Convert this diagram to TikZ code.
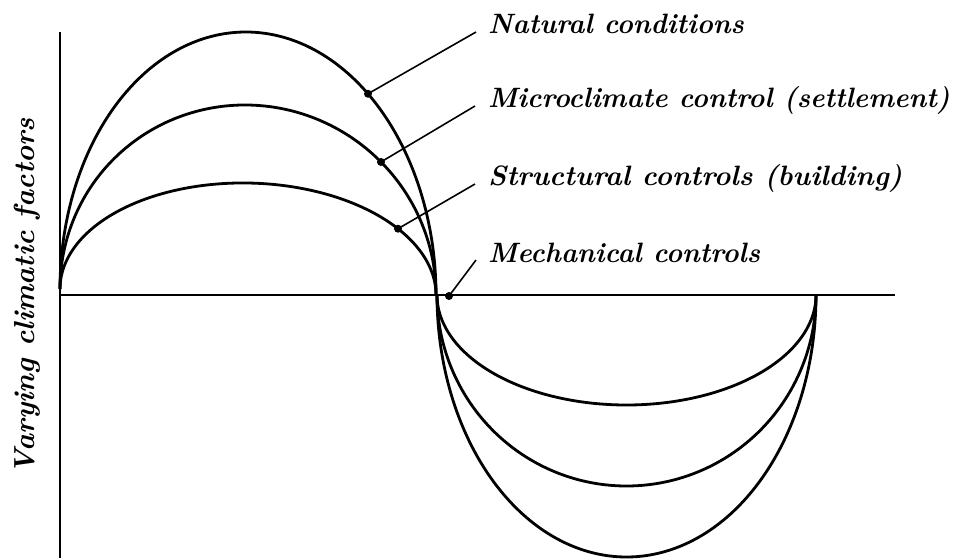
\documentclass[tikz,border=0pt]{standalone}
\begin{document}
\begin{tikzpicture}[x=1pt,y=-1pt,
  curve/.style={line width=2.8pt},
  axis/.style={line width=2.5pt},
  leader/.style={line width=1.6pt},
  dotmark/.style={circle,fill=black,inner sep=0pt,minimum size=8pt},
  lbl/.style={anchor=base west,inner sep=0pt,xscale=0.975,font=\fontsize{28}{32}\selectfont\bfseries\itshape},
  ylbl/.style={anchor=base,inner sep=0pt,rotate=90,font=\fontsize{29}{33}\selectfont\bfseries\itshape}]
\useasboundingbox (0,0) rectangle (953,558);
% axes
\coordinate (O) at (60,295);
\coordinate (ytop) at (60,32);
\coordinate (ybot) at (60,558);
\coordinate (xend) at (895,295);
\draw[axis] (ytop) -- (ybot);
\draw[axis] (O) -- (xend);
% upper curves
\draw[curve] plot[domain=0:180,samples=150,variable=\t] ({248-188*cos(\t)},{292-3*cos(\t)-260*sin(\t)});
\draw[curve] plot[domain=0:180,samples=150,variable=\t] ({248-188*cos(\t)},{292-3*cos(\t)-187*sin(\t)});
\draw[curve] plot[domain=0:180,samples=150,variable=\t] ({248-188*cos(\t)},{292-3*cos(\t)-109*sin(\t)});
% lower curves
\draw[curve] plot[domain=0:180,samples=150,variable=\t] ({626.5-189.5*cos(\t)},{295+262*sin(\t)});
\draw[curve] plot[domain=0:180,samples=150,variable=\t] ({626.5-189.5*cos(\t)},{295+191*sin(\t)});
\draw[curve] plot[domain=0:180,samples=150,variable=\t] ({626.5-189.5*cos(\t)},{295+110*sin(\t)});
% dots
\node[dotmark] (dn) at ({248-188*cos(129.66)},{292-3*cos(129.66)-260*sin(129.66)}) {};
\node[dotmark] (dm) at ({248-188*cos(135.02)},{292-3*cos(135.02)-187*sin(135.02)}) {};
\node[dotmark] (ds) at ({248-188*cos(142.94)},{292-3*cos(142.94)-109*sin(142.94)}) {};
\node[dotmark] (dk) at (449,296) {};
% leader ends
\coordinate (en) at (476,32);
\coordinate (em) at (475,106);
\coordinate (es) at (475,184);
\coordinate (ek) at (476,260);
\draw[leader] (dn.center) -- (en);
\draw[leader] (dm.center) -- (em);
\draw[leader] (ds.center) -- (es);
\draw[leader] (dk.center) -- (ek);
% labels
\node[lbl] (tn) at (488,33) {Natural conditions};
\node[lbl] (tm) at (488,107) {Microclimate control (settlement)};
\node[lbl,xscale=1.035] (ts) at (488,185) {Structural controls (building)};
\node[lbl] (tk) at (488,262) {Mechanical controls};
\node[ylbl] (yl) at (34,296) {Varying climatic factors};
\end{tikzpicture}
\end{document}
